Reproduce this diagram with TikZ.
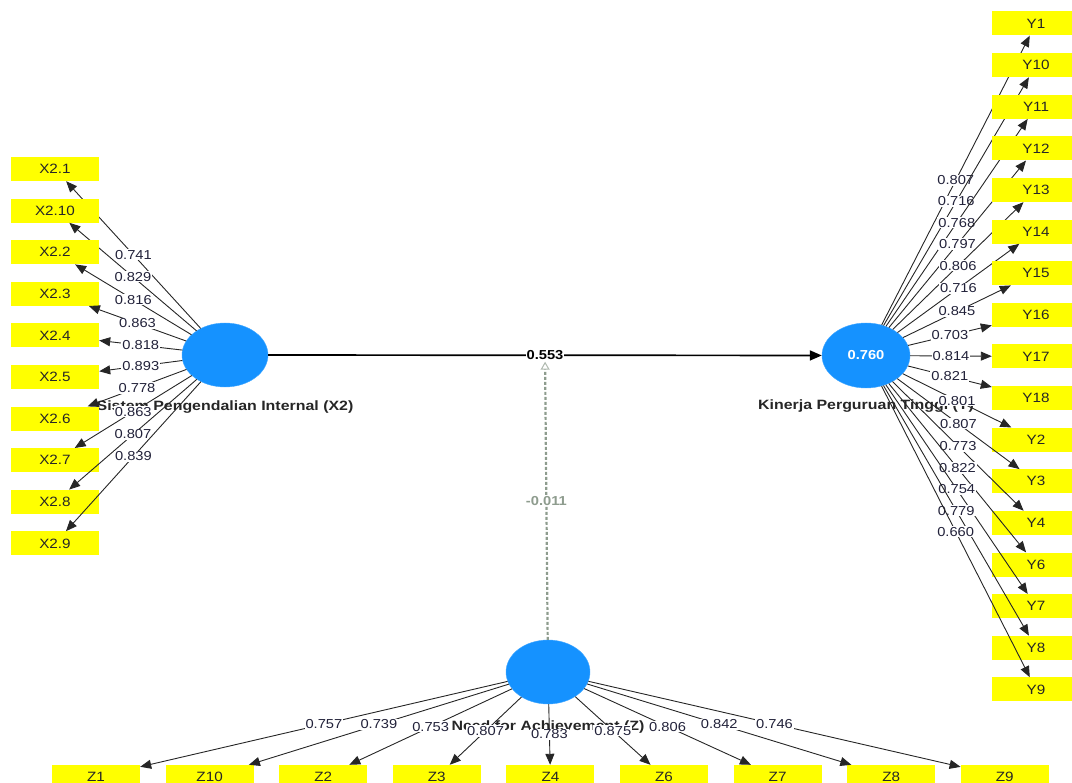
\documentclass[tikz,border=0pt]{standalone}
\usepackage{fontspec}
\setmainfont{Liberation Sans}
\newfontfamily\lblfont[FakeStretch=1.13]{Liberation Sans}
\newfontfamily\latfont[FakeStretch=1.18]{Liberation Sans}
\usetikzlibrary{shapes.geometric,arrows.meta}
\definecolor{lvblue}{HTML}{1592FF}
\definecolor{mvyellow}{HTML}{FFFF00}
\definecolor{lbltext}{HTML}{22223A}
\definecolor{modgray}{HTML}{8E9C8E}
\begin{document}
\begin{tikzpicture}[x=1pt,y=-1pt,
  latent/.style={ellipse, fill=lvblue, draw=lvblue!80!white, minimum width=86pt, minimum height=64pt, inner sep=0pt},
  indicator/.style={rectangle, fill=mvyellow, minimum width=88pt, minimum height=24pt, inner sep=0pt, font=\lblfont\fontsize{13.5}{15}\selectfont, text=black!85},
  latname/.style={font=\latfont\bfseries\fontsize{13.5}{16}\selectfont, text=black!85, inner sep=0pt},
  loading/.style={draw=black!85, line width=0.9pt, -{Triangle[length=11pt,width=9pt]}},
  wt/.style={fill=white, inner sep=1pt, font=\lblfont\fontsize{13}{15}\selectfont, text=lbltext}
]
\useasboundingbox (0,0) rectangle (1072,783);

% latent variables
\node[latent, label={[latname, name=X2lab, label distance=13.6pt]below:Sistem Pengendalian Internal (X2)}] (X2) at (225,355) {};
\node[latent, minimum width=88pt, minimum height=65pt, text=white, font=\lblfont\bfseries\fontsize{13}{15}\selectfont,
      label={[latname, name=Ylab, label distance=11.6pt]below:Kinerja Perguruan Tinggi (Y)}] (Y) at (866,355.5) {0.760};
\node[latent, minimum width=84pt, label={[latname, name=Zlab, label distance=16pt]below:Need for Achievement (Z)}] (Z) at (548,672) {};

% X2 indicators
\foreach [count=\i] \t/\v in {X2.1/0.741, X2.10/0.829, X2.2/0.816, X2.3/0.863, X2.4/0.818, X2.5/0.893, X2.6/0.778, X2.7/0.863, X2.8/0.807, X2.9/0.839}{
  \node[indicator] (x\i) at (55,{169+41.6*(\i-1)}) {\t};
  \draw[loading] (X2) -- node[wt]{\v} (x\i);
}

% Y indicators
\foreach [count=\i] \t/\v in {Y1/0.807, Y10/0.716, Y11/0.768, Y12/0.797, Y13/0.806, Y14/0.716, Y15/0.845, Y16/0.703, Y17/0.814, Y18/0.821, Y2/0.801, Y3/0.807, Y4/0.773, Y6/0.822, Y7/0.754, Y8/0.779, Y9/0.660}{
  \node[indicator] (y\i) at (1036,{23.5+41.62*(\i-1)}) {\t};
  \draw[loading] (Y) -- node[wt]{\v} (y\i);
}

% Z indicators
\foreach [count=\i] \t/\v in {Z1/0.757, Z10/0.739, Z2/0.753, Z3/0.807, Z4/0.783, Z6/0.875, Z7/0.806, Z8/0.842, Z9/0.746}{
  \node[indicator] (z\i) at ({96+113.6*(\i-1)},777) {\t};
  \draw[loading] (Z) -- node[wt]{\v} (z\i);
}

% structural path
\draw[black, line width=1.7pt, -{Triangle[length=12pt,width=10pt]}] (X2) -- node[wt, text=black, font=\lblfont\bfseries\fontsize{13}{15}\selectfont] (p553) {0.553} (Y);

% moderating effect
\draw[modgray, line width=2.2pt, dash pattern=on 3pt off 2pt, -{Triangle[open, length=8pt, width=9pt, line width=1pt, color=modgray!70]}] (Z) -- node[wt, text=modgray, font=\lblfont\bfseries\fontsize{13}{15}\selectfont] {-0.011} (p553);
\end{tikzpicture}
\end{document}
